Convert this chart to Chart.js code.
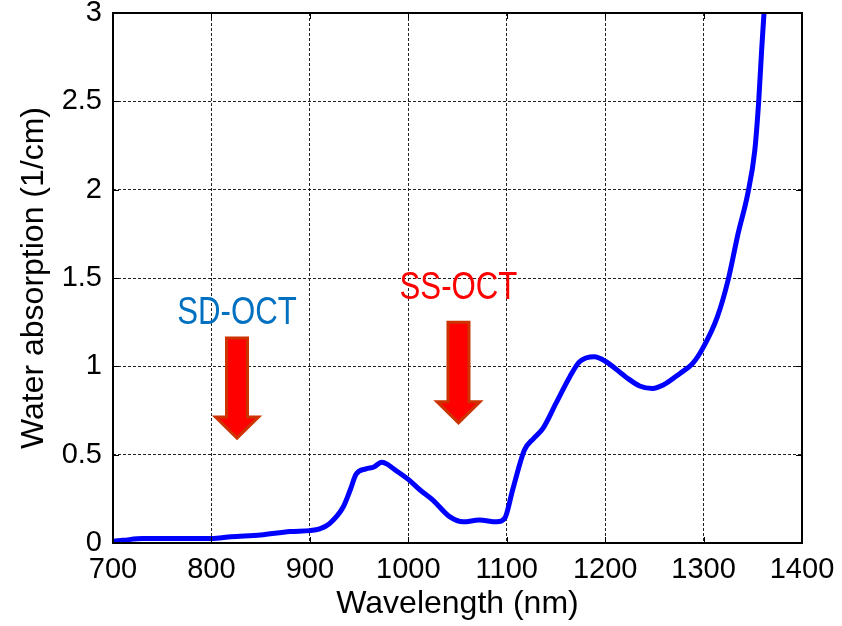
<!DOCTYPE html>
<html>
<head>
<meta charset="utf-8">
<title>Water absorption</title>
<script src="https://cdn.jsdelivr.net/npm/chart.js@4"></script>
<style>
    html, body { margin: 0; padding: 0; background: #fff; }
    #chart { display: block; }
</style>
</head>
<body>
<canvas id="chart" width="842" height="626"></canvas>
<script>
// water absorption spectrum
const wavelengthNm = [700, 710, 730, 760, 800, 820, 850, 880, 900, 910, 920, 934, 941, 947, 957, 965, 973, 979, 985, 1000, 1012, 1025, 1042, 1056, 1072, 1090, 1098, 1106, 1118, 1127, 1137, 1150, 1164, 1174, 1189, 1201, 1221, 1235, 1248, 1259, 1276, 1289, 1299, 1314, 1325, 1335, 1345, 1352, 1356, 1359, 1362];
const absorption = [0.01, 0.015, 0.025, 0.025, 0.025, 0.035, 0.045, 0.065, 0.07, 0.08, 0.11, 0.205, 0.30, 0.39, 0.42, 0.43, 0.457, 0.445, 0.42, 0.36, 0.30, 0.243, 0.149, 0.12, 0.13, 0.12, 0.14, 0.3, 0.526, 0.59, 0.65, 0.79, 0.94, 1.026, 1.054, 1.026, 0.94, 0.889, 0.875, 0.894, 0.96, 1.017, 1.1, 1.28, 1.49, 1.75, 1.98, 2.22, 2.5, 2.79, 3.05];

const xTicks = [700, 800, 900, 1000, 1100, 1200, 1300, 1400];
const yTicks = [0, 0.5, 1, 1.5, 2, 2.5, 3];

// arrow annotations (data units)
const arrowLabels = ['SD-OCT', 'SS-OCT'];
const arrowLabelColors = ['#0070c0', '#ff0000'];
const arrowWavelength = [826, 1051];
const arrowLabelY = [1.30, 1.44];
const arrowTopY = [1.16, 1.25];
const arrowHeadY = [0.713, 0.80];
const arrowTipY = [0.594, 0.68];

const FONT = '"Liberation Sans", Arial, sans-serif';

const annotations = {
    id: 'annotations',
    afterDatasetsDraw(chart) {
        const { ctx, scales: { x, y } } = chart;
        ctx.save();
        arrowLabels.forEach((label, i) => {
            const cx = x.getPixelForValue(arrowWavelength[i]);
            const top = y.getPixelForValue(arrowTopY[i]);
            const head = y.getPixelForValue(arrowHeadY[i]);
            const tip = y.getPixelForValue(arrowTipY[i]);
            const sw = 10.5, hw = 21.5;
            ctx.beginPath();
            ctx.moveTo(cx - sw, top);
            ctx.lineTo(cx + sw, top);
            ctx.lineTo(cx + sw, head);
            ctx.lineTo(cx + hw, head);
            ctx.lineTo(cx, tip);
            ctx.lineTo(cx - hw, head);
            ctx.lineTo(cx - sw, head);
            ctx.closePath();
            ctx.fillStyle = '#ff0000';
            ctx.fill();
            ctx.lineWidth = 3;
            ctx.lineJoin = 'miter';
            ctx.strokeStyle = '#cc3300';
            ctx.stroke();

            // label, slightly condensed like the original
            ctx.save();
            ctx.translate(cx, y.getPixelForValue(arrowLabelY[i]));
            ctx.scale(0.8, 1);
            ctx.font = '39px ' + FONT;
            ctx.textAlign = 'center';
            ctx.textBaseline = 'middle';
            ctx.fillStyle = arrowLabelColors[i];
            ctx.fillText(label, 0, 0);
            ctx.restore();
        });
        ctx.restore();
    },
    afterDraw(chart) {
        // box frame with inward ticks
        const { ctx, chartArea: a, scales: { x, y } } = chart;
        ctx.save();
        ctx.strokeStyle = '#000';
        ctx.lineWidth = 1;
        ctx.beginPath();
        xTicks.forEach(v => {
            const px = Math.round(x.getPixelForValue(v)) + 0.5;
            ctx.moveTo(px, a.bottom); ctx.lineTo(px, a.bottom - 6);
            ctx.moveTo(px, a.top); ctx.lineTo(px, a.top + 6);
        });
        yTicks.forEach(v => {
            const py = Math.round(y.getPixelForValue(v)) + 0.5;
            ctx.moveTo(a.left, py); ctx.lineTo(a.left + 6, py);
            ctx.moveTo(a.right, py); ctx.lineTo(a.right - 6, py);
        });
        ctx.stroke();
        ctx.lineWidth = 2;
        ctx.strokeRect(a.left, a.top, a.right - a.left, a.bottom - a.top);
        ctx.restore();
    }
};

const gridOpts = { color: '#222', lineWidth: 1, drawTicks: false, borderDash: [3, 2] };

new Chart(document.getElementById('chart'), {
    type: 'line',
    data: {
        datasets: [{
            data: wavelengthNm.map((w, i) => ({ x: w, y: absorption[i] })),
            borderColor: '#0000ff',
            borderWidth: 5,
            pointRadius: 0,
            cubicInterpolationMode: 'monotone',
            borderJoinStyle: 'round',
            borderCapStyle: 'round',
            fill: false
        }]
    },
    options: {
        responsive: false,
        animation: false,
        devicePixelRatio: 1,
        layout: { padding: { top: 13, right: 40, bottom: 0, left: 0 } },
        plugins: { legend: { display: false }, tooltip: { enabled: false } },
        scales: {
            x: {
                type: 'linear',
                min: 700,
                max: 1400,
                afterBuildTicks: s => { s.ticks = xTicks.map(v => ({ value: v })); },
                afterFit: s => { s.height = 83; s.paddingLeft = 0; s.paddingRight = 0; },
                ticks: { color: '#000', font: { family: FONT, size: 29 }, padding: 10, maxRotation: 0, callback: v => String(v) },
                grid: gridOpts,
                border: { display: false, dash: [3, 2] },
                title: {
                    display: true,
                    text: 'Wavelength (nm)',
                    color: '#000',
                    font: { family: FONT, size: 32 },
                    padding: { top: 0, bottom: 3 }
                }
            },
            y: {
                min: 0,
                max: 3,
                afterBuildTicks: s => { s.ticks = yTicks.map(v => ({ value: v })); },
                afterFit: s => { s.width = 113; s.paddingTop = 0; s.paddingBottom = 0; },
                ticks: { color: '#000', font: { family: FONT, size: 29 }, padding: 11, callback: v => String(v) },
                grid: gridOpts,
                border: { display: false, dash: [3, 2] },
                title: {
                    display: true,
                    text: 'Water absorption (1/cm)',
                    color: '#000',
                    font: { family: FONT, size: 32 },
                    padding: { top: 15, bottom: 0 }
                }
            }
        }
    },
    plugins: [annotations]
});
</script>
</body>
</html>
